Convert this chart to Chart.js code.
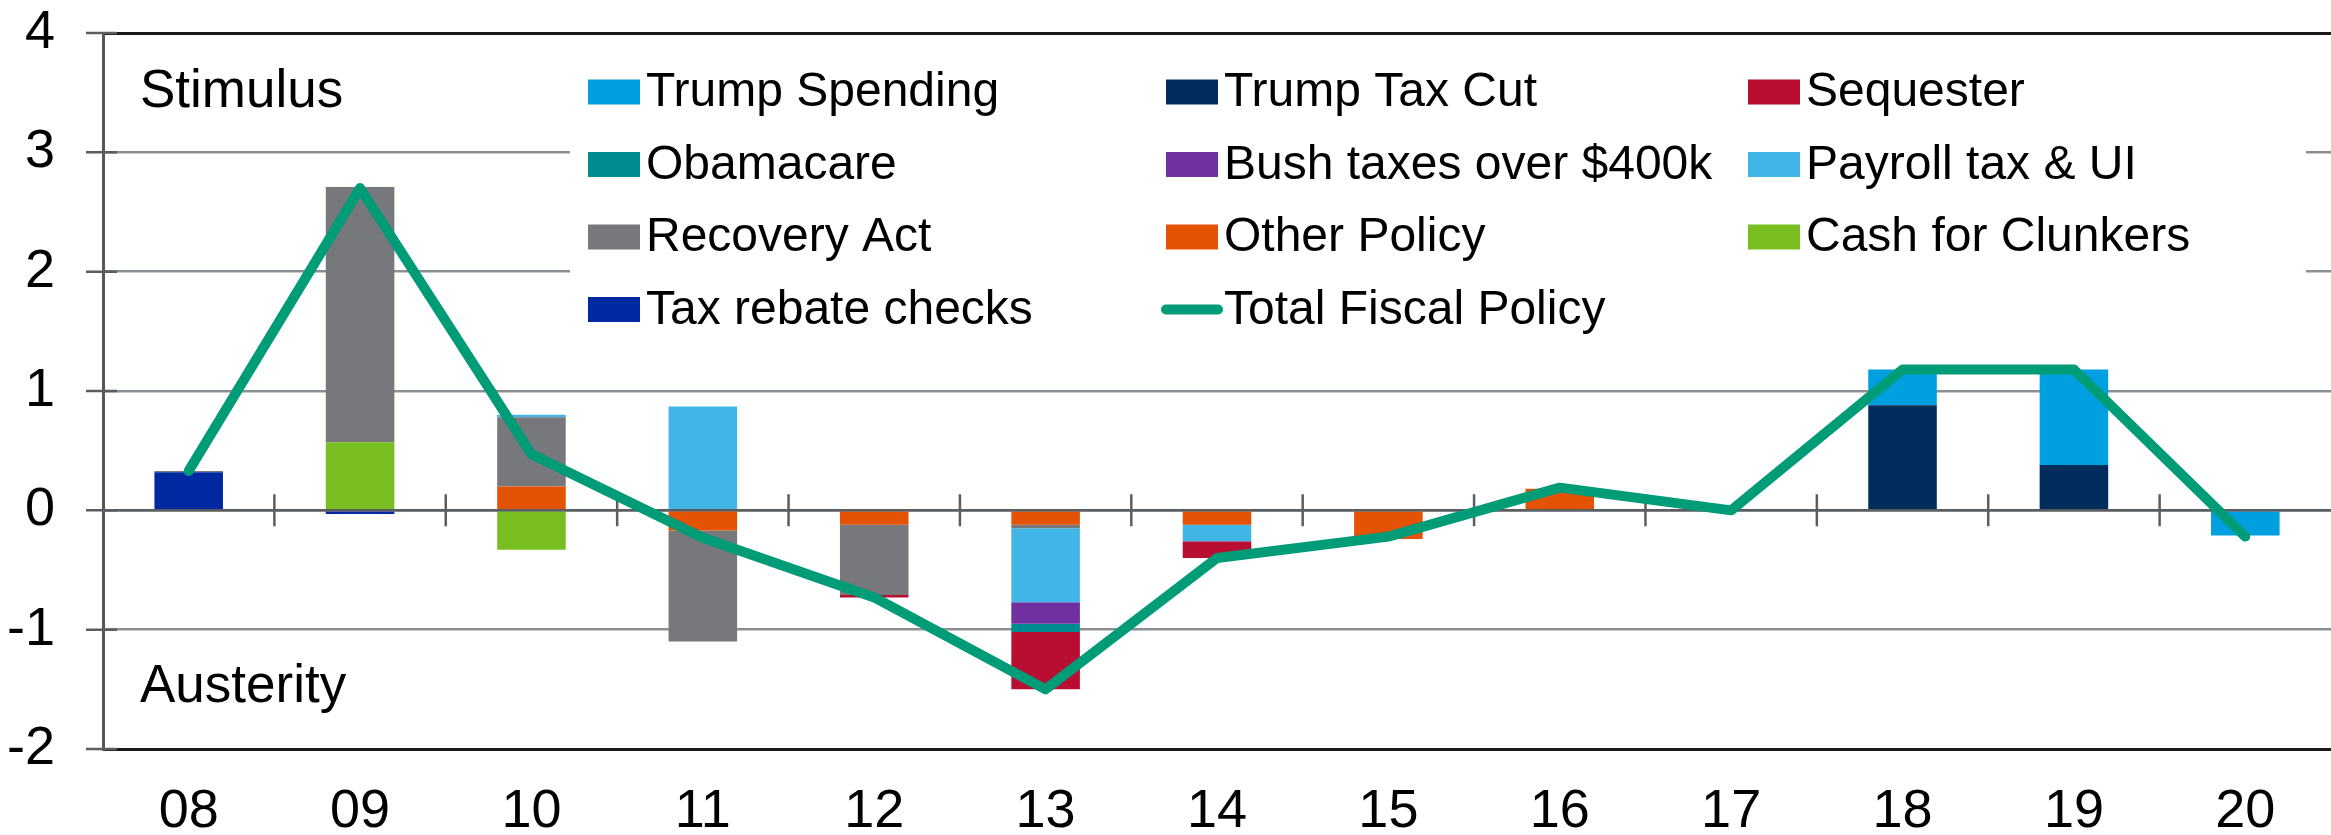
<!DOCTYPE html>
<html>
<head>
<meta charset="utf-8">
<script src="https://cdn.jsdelivr.net/npm/chart.js@4.4.1/dist/chart.umd.min.js"></script>
<style>
  html, body { margin: 0; padding: 0; background: #fff; }
  #wrap { width: 2331px; height: 835px; }
</style>
</head>
<body>
<div id="wrap"><canvas id="myChart" width="2331" height="835"></canvas></div>
<script>
const years = ["08", "09", "10", "11", "12", "13", "14", "15", "16", "17", "18", "19", "20"];
const yTicks = [-2, -1, 0, 1, 2, 3, 4];

// bar series (percentage points of GDP), one value per year
const trumpSpending = [0, 0, 0, 0, 0, 0, 0, 0, 0, 0, 0.30, 0.80, -0.21];
const trumpTaxCut   = [0, 0, 0, 0, 0, 0, 0, 0, 0, 0, 0.88, 0.38, 0];
const sequester     = [0, 0, 0, 0, -0.02, -0.48, -0.14, 0, 0, 0, 0, 0, 0];
const obamacare     = [0, 0, 0, 0, 0, -0.07, 0, 0, 0, 0, 0, 0, 0];
const bushTaxes     = [0, 0, 0, 0, 0, -0.18, 0, 0, 0, 0, 0, 0, 0];
const payrollTax    = [0, 0, 0.02, 0.87, 0, -0.62, -0.14, 0, 0, 0, 0, 0, 0];
const recoveryAct   = [0.01, 2.14, 0.58, -0.93, -0.59, -0.03, 0, 0, 0, 0, 0, 0, 0];
const otherPolicy   = [0, 0, 0.20, -0.17, -0.12, -0.12, -0.12, -0.24, 0.18, 0, 0, 0, 0];
const cashClunkers  = [0, 0.57, -0.33, 0, 0, 0, 0, 0, 0, 0, 0, 0, 0];
const taxRebate     = [0.32, -0.03, 0, 0, 0, 0, 0, 0, 0, 0, 0, 0, 0];
const totalFiscal   = [0.33, 2.70, 0.47, -0.23, -0.73, -1.50, -0.40, -0.22, 0.19, 0.0, 1.18, 1.18, -0.22];

const colors = {
  "Trump Spending": "#009fdf",
  "Trump Tax Cut": "#002d5c",
  "Sequester": "#b80e32",
  "Obamacare": "#008c8f",
  "Bush taxes over $400k": "#7030a0",
  "Payroll tax & UI": "#41b6e6",
  "Recovery Act": "#76787b",
  "Other Policy": "#e35205",
  "Cash for Clunkers": "#78be20",
  "Tax rebate checks": "#0028a0",
  "Total Fiscal Policy": "#009b77"
};

// stacking order, nearest to zero first
const barSeries = [
  ["Tax rebate checks", taxRebate],
  ["Cash for Clunkers", cashClunkers],
  ["Other Policy", otherPolicy],
  ["Recovery Act", recoveryAct],
  ["Payroll tax & UI", payrollTax],
  ["Bush taxes over $400k", bushTaxes],
  ["Obamacare", obamacare],
  ["Sequester", sequester],
  ["Trump Tax Cut", trumpTaxCut],
  ["Trump Spending", trumpSpending]
];

// legend rows as shown in the picture
const legendRows = [
  ["Trump Spending", "Trump Tax Cut", "Sequester"],
  ["Obamacare", "Bush taxes over $400k", "Payroll tax & UI"],
  ["Recovery Act", "Other Policy", "Cash for Clunkers"],
  ["Tax rebate checks", "Total Fiscal Policy"]
];

const FONT = '"Liberation Sans", Arial, sans-serif';

const datasets = barSeries.map(([label, values]) => ({
  type: "bar",
  label: label,
  data: values,
  backgroundColor: colors[label],
  borderWidth: 0,
  stack: "bars",
  order: 1,
  categoryPercentage: 1.0,
  barPercentage: 0.40
}));

datasets.push({
  type: "line",
  label: "Total Fiscal Policy",
  data: totalFiscal,
  borderColor: colors["Total Fiscal Policy"],
  backgroundColor: colors["Total Fiscal Policy"],
  borderWidth: 10,
  borderCapStyle: "round",
  borderJoinStyle: "round",
  pointRadius: 0,
  tension: 0,
  stack: "line",
  order: 0
});

const decor = {
  id: "decor",
  beforeDatasetsDraw(chart) {
    const { ctx, chartArea, scales: { y } } = chart;
    ctx.save();
    ctx.strokeStyle = "#5b5e61";
    ctx.lineWidth = 2.5;
    ctx.beginPath();
    yTicks.forEach(v => {
      const py = y.getPixelForValue(v);
      ctx.moveTo(chartArea.left - 17, py);
      ctx.lineTo(chartArea.left + 14, py);
    });
    ctx.stroke();
    ctx.restore();
  },
  // zero axis sits over the bars but under the total line
  beforeDatasetDraw(chart, args) {
    if (args.meta.type !== "line") return;
    const { ctx, chartArea, scales: { x, y } } = chart;
    const y0 = y.getPixelForValue(0);
    ctx.save();
    ctx.strokeStyle = "#5b5e61";
    ctx.lineWidth = 2.5;
    ctx.beginPath();
    ctx.moveTo(chartArea.left, y0);
    ctx.lineTo(chartArea.right, y0);
    for (let i = 1; i < years.length; i++) {
      const bx = (x.getPixelForValue(i - 1) + x.getPixelForValue(i)) / 2;
      ctx.moveTo(bx, y0 - 16);
      ctx.lineTo(bx, y0 + 16);
    }
    ctx.stroke();
    ctx.restore();
  },
  afterDraw(chart) {
    const ctx = chart.ctx;
    ctx.save();
    // legend box hides the grid behind it
    ctx.fillStyle = "#fff";
    ctx.fillRect(570, 46, 1736, 300);

    ctx.font = "48px " + FONT;
    ctx.textBaseline = "middle";
    ctx.textAlign = "left";
    const colX = [588, 1166, 1748];
    legendRows.forEach((row, r) => {
      const cy = 92 + r * 72.5;
      row.forEach((label, c) => {
        const bx = colX[c];
        if (label === "Total Fiscal Policy") {
          ctx.strokeStyle = colors[label];
          ctx.lineWidth = 10;
          ctx.lineCap = "round";
          ctx.beginPath();
          ctx.moveTo(bx, cy);
          ctx.lineTo(bx + 52, cy);
          ctx.stroke();
        } else {
          ctx.fillStyle = colors[label];
          ctx.fillRect(bx, cy - 12.5, 52, 25);
        }
        ctx.fillStyle = "#000";
        ctx.fillText(label, bx + 58, cy + 1);
      });
    });

    ctx.font = "53px " + FONT;
    ctx.textBaseline = "alphabetic";
    ctx.fillStyle = "#000";
    ctx.fillText("Stimulus", 140, 107);
    ctx.fillText("Austerity", 140, 702);
    ctx.restore();
  }
};

new Chart("myChart", {
  data: {
    labels: years,
    datasets: datasets
  },
  options: {
    responsive: false,
    animation: false,
    devicePixelRatio: 1,
    layout: { padding: { top: 33, left: 0, right: 0, bottom: 0 } },
    plugins: {
      legend: { display: false },
      tooltip: { enabled: false }
    },
    scales: {
      x: {
        stacked: true,
        offset: true,
        grid: { display: false, drawTicks: false },
        border: { display: false },
        ticks: {
          color: "#000",
          font: { family: FONT, size: 54 },
          padding: 31,
          maxRotation: 0
        },
        afterFit: s => { s.height = 86; }
      },
      y: {
        stacked: true,
        min: -2,
        max: 4,
        afterBuildTicks: s => { s.ticks = yTicks.map(v => ({ value: v })); },
        grid: {
          drawTicks: true,
          tickLength: 48,
          tickColor: "rgba(0,0,0,0)",
          color: c => {
            const v = c.tick.value;
            if (v === 4 || v === -2) return "#1a1a1a";
            if (v === 0) return "#5b5e61";
            return "#8c8f92";
          },
          lineWidth: c => (c.tick.value === 4 || c.tick.value === -2) ? 3 : 2.5
        },
        border: { display: true, color: "#55595c", width: 3 },
        ticks: {
          color: "#000",
          font: { family: FONT, size: 54 },
          padding: 0
        },
        afterFit: s => { s.width = 103; }
      }
    }
  },
  plugins: [decor]
});
</script>
</body>
</html>
